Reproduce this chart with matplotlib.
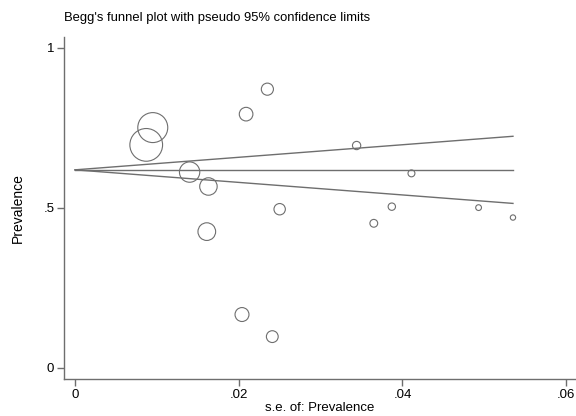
import matplotlib
matplotlib.use("Agg")
import matplotlib.pyplot as plt
import numpy as np

# study estimates
se_vals = [0.0095, 0.0087, 0.0140, 0.0163, 0.0161, 0.0209, 0.0235, 0.0250,
           0.0344, 0.0411, 0.0387, 0.0365, 0.0493, 0.0535, 0.0204, 0.0241]
prev_vals = [0.751, 0.697, 0.612, 0.567, 0.426, 0.793, 0.871, 0.496,
             0.695, 0.608, 0.504, 0.452, 0.501, 0.470, 0.167, 0.098]
pooled = 0.619

x_ticks = [0, 0.02, 0.04, 0.06]
x_tick_labels = ["0", ".02", ".04", ".06"]
y_ticks = [0, 0.5, 1]
y_tick_labels = ["0", ".5", "1"]

plt.rcParams['font.family'] = ['Liberation Sans', 'DejaVu Sans']
grey = "#6e6e6e"

fig = plt.figure(figsize=(5.76, 4.16), dpi=100)
ax = fig.add_axes([64 / 576, 37 / 416, 512 / 576, 342 / 416])

se = np.array(se_vals)
prev = np.array(prev_vals)

# marker area proportional to weight 1/se^2
sizes = 0.042 / se ** 2
ax.scatter(se, prev, s=sizes, facecolors="none", edgecolors=grey, linewidths=0.8, zorder=3)

# pseudo 95% limits
se_line = np.array([0, se.max()])
ax.plot(se_line, [pooled, pooled], color=grey, lw=1.0)
ax.plot(se_line, pooled + 1.96 * se_line, color=grey, lw=1.0)
ax.plot(se_line, pooled - 1.96 * se_line, color=grey, lw=1.0)

ax.set_xlim(-0.001344, 0.0612)
ax.set_ylim(-0.0344, 1.034)
ax.set_xticks(x_ticks)
ax.set_xticklabels(x_tick_labels)
ax.set_yticks(y_ticks)
ax.set_yticklabels(y_tick_labels)

for side in ["top", "right"]:
    ax.spines[side].set_visible(False)
for side in ["left", "bottom"]:
    ax.spines[side].set_color(grey)
    ax.spines[side].set_linewidth(1.0)
ax.tick_params(color=grey, length=5, width=1.0, labelsize=9.5, pad=2)

ax.set_xlabel("s.e. of: Prevalence", fontsize=9.5, labelpad=1)
ax.set_ylabel("Prevalence", fontsize=10, labelpad=13)
fig.text(64 / 576, 1 - 18 / 416, "Begg's funnel plot with pseudo 95% confidence limits",
         fontsize=9.4, va="center", ha="left")

plt.savefig("out.png", dpi=100)
